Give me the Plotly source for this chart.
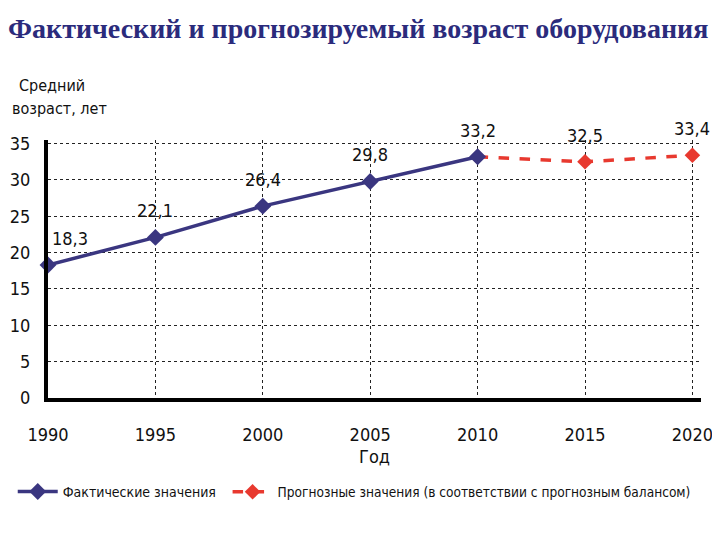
import plotly.graph_objects as go

years_actual = [1990, 1995, 2000, 2005, 2010]
age_actual = [18.3, 22.1, 26.4, 29.8, 33.2]
years_forecast = [2010, 2015, 2020]
age_forecast = [33.2, 32.5, 33.4]
x_ticks = [1990, 1995, 2000, 2005, 2010, 2015, 2020]
y_ticks = [0, 5, 10, 15, 20, 25, 30, 35]

NARROW = "DejaVu Sans Condensed, Liberation Sans Narrow, sans-serif"
NAVY = "#3a3680"
RED = "#e8392f"

fig = go.Figure()
# forecast drawn first so the actual 2010 marker sits on top of it
fig.add_trace(go.Scatter(
    x=years_forecast, y=age_forecast, mode="lines+markers",
    name="Прогнозные значения (в соответствии с прогнозным балансом)",
    line=dict(color=RED, width=3.5, dash="dash"),
    marker=dict(symbol="diamond", size=12, color=RED),
    cliponaxis=False, legend="legend2",
))
fig.add_trace(go.Scatter(
    x=years_actual, y=age_actual, mode="lines+markers",
    name="Фактические значения",
    line=dict(color=NAVY, width=3.5),
    marker=dict(symbol="diamond", size=13, color=NAVY),
    cliponaxis=False, legend="legend",
))

all_x = years_actual + years_forecast[1:]
all_y = age_actual + age_forecast[1:]
for i, (xv, yv) in enumerate(zip(all_x, all_y)):
    fig.add_annotation(
        x=xv, y=yv, text=f"{yv}".replace(".", ","), showarrow=False,
        xanchor="left" if i == 0 else "center", yanchor="bottom",
        xshift=2 if i == 0 else 0, yshift=14,
        font=dict(family=NARROW, size=18, color="#111"),
    )

fig.add_annotation(xref="paper", yref="paper", x=0.006, y=1.213,
                   text="Средний", showarrow=False, xanchor="center", yanchor="middle",
                   font=dict(family=NARROW, size=16, color="#111"))
fig.add_annotation(xref="paper", yref="paper", x=0.018, y=1.124,
                   text="возраст, лет", showarrow=False, xanchor="center", yanchor="middle",
                   font=dict(family=NARROW, size=16, color="#111"))

legend_font = dict(family=NARROW, size=14, color="#111")
fig.update_layout(
    width=712, height=532,
    paper_bgcolor="white", plot_bgcolor="white",
    margin=dict(l=40, r=19, t=132, b=142, autoexpand=False),
    title=dict(text="<b>Фактический и прогнозируемый возраст оборудования</b>",
               x=0.0, xanchor="left", xref="container", y=0.962, yanchor="middle", yref="container",
               font=dict(family="Liberation Serif, Times New Roman, serif", size=28, color="#2b2b7c")),
    showlegend=True,
    legend=dict(orientation="h", x=-0.054, xanchor="left", y=-0.364, yanchor="middle",
                font=legend_font, itemwidth=40, bgcolor="rgba(0,0,0,0)"),
    legend2=dict(orientation="h", x=0.275, xanchor="left", y=-0.364, yanchor="middle",
                 font=dict(family=NARROW, size=13.6, color="#111"),
                 itemwidth=40, bgcolor="rgba(0,0,0,0)"),
    xaxis=dict(range=[1990, 2020.4], tickvals=x_ticks, showgrid=True,
               gridcolor="#222", gridwidth=1, griddash="3px,3px",
               showline=True, linecolor="black", linewidth=4,
               zeroline=False, ticks="", ticklabelstandoff=17, automargin=False,
               tickfont=dict(family=NARROW, size=18, color="#111"),
               title=dict(text="Год", font=dict(family=NARROW, size=18, color="#111"), standoff=8),
               fixedrange=True),
    yaxis=dict(range=[0, 35.5], tickvals=y_ticks, showgrid=True,
               gridcolor="#222", gridwidth=1, griddash="3px,3px",
               showline=True, linecolor="black", linewidth=4,
               zeroline=False, ticks="", ticklabelstandoff=10, automargin=False,
               tickfont=dict(family=NARROW, size=18, color="#111"),
               fixedrange=True),
)

fig.write_html("out.html")
